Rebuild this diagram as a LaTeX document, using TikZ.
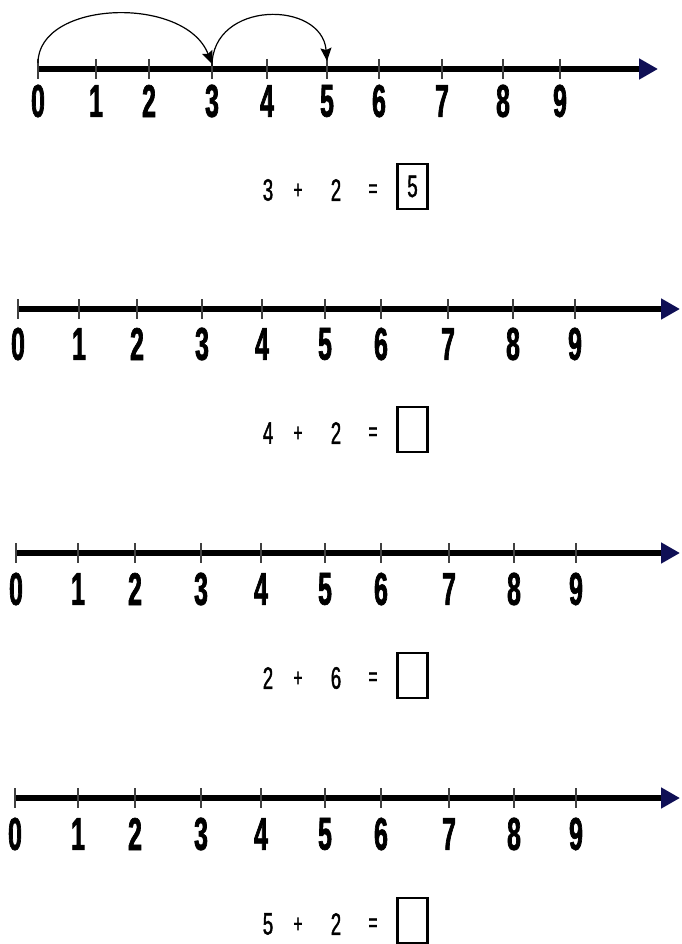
\documentclass[tikz,border=0pt]{standalone}
\usepackage{fontspec}
\usetikzlibrary{arrows.meta}
\newfontfamily\numfont[FakeStretch=0.54,FakeBold=1.5]{Liberation Sans Bold}
\newfontfamily\eqfont[FakeStretch=0.6,FakeBold=1.3]{Liberation Sans}
\definecolor{navy}{RGB}{15,15,85}
\begin{document}
\begin{tikzpicture}[x=1pt,y=-1pt,
  axisline/.style={line width=5.5pt,-{Triangle[length=19pt,width=20pt,color=navy,fill=navy]}},
  tick/.style={line width=1.3pt,draw=black!75},
  numlabel/.style={inner sep=0pt,font=\numfont\fontsize{46}{46}\selectfont},
  eqtext/.style={inner sep=0pt,font=\eqfont\fontsize{31}{31}\selectfont},
  eqsign/.style={inner sep=0pt,font=\eqfont\fontsize{26}{26}\selectfont},
  ansbox/.style={draw,line width=2.2pt,minimum width=30pt,minimum height=45pt,inner sep=0pt,font=\eqfont\fontsize{31}{31}\selectfont},
  jump/.style={line width=1.2pt,-{Stealth[length=13pt,width=11pt,inset=2pt]}}]
\useasboundingbox (0,0) rectangle (681,944);
\fill[white] (0,0) rectangle (681,944);

% ---------- line 1 ----------
\coordinate (s1) at (38,69);
\coordinate (e1) at (658,69);
\draw[axisline] (s1) -- (e1);
\foreach \x [count=\i from 0] in {38,96,149,212,267,327,379,442,503,560}{
  \draw[tick] (\x,59) -- (\x,79);
  \node[numlabel] (a\i) at (\x,101) {\i};
}
\coordinate (j0) at (38,63);
\coordinate (j3) at (212,64);
\coordinate (j3b) at (212,66);
\coordinate (j5) at (327,61);
\draw[jump] (j0) .. controls (38,0) and (185,-5) .. (j3);
\draw[jump] (j3b) .. controls (212,0) and (322,0) .. (j5);

\node[eqtext] (p1a) at (268,190) {3};
\node[eqsign] (p1b) at (298,191) {+};
\node[eqtext] (p1c) at (336,190) {2};
\node[eqsign] (p1d) at (373,191) {=};
\node[ansbox] (b1) at (412.5,186.5) {5};

% ---------- line 2 ----------
\coordinate (s2) at (18,309);
\coordinate (e2) at (680,309);
\draw[axisline] (s2) -- (e2);
\foreach \x [count=\i from 0] in {18,79,137,202,262,325,381,448,513,575}{
  \draw[tick] (\x,299) -- (\x,319);
  \node[numlabel] (b\i) at (\x,344) {\i};
}
\node[eqtext] (p2a) at (268,433) {4};
\node[eqsign] (p2b) at (298,434) {+};
\node[eqtext] (p2c) at (336,433) {2};
\node[eqsign] (p2d) at (373,434) {=};
\node[ansbox] (bx2) at (412.5,429.5) {};

% ---------- line 3 ----------
\coordinate (s3) at (16,553);
\coordinate (e3) at (680,553);
\draw[axisline] (s3) -- (e3);
\foreach \x [count=\i from 0] in {16,78,135,201,261,325,381,449,514,576}{
  \draw[tick] (\x,543) -- (\x,563);
  \node[numlabel] (c\i) at (\x,589) {\i};
}
\node[eqtext] (p3a) at (268,678) {2};
\node[eqsign] (p3b) at (298,679) {+};
\node[eqtext] (p3c) at (336,678) {6};
\node[eqsign] (p3d) at (373,679) {=};
\node[ansbox] (bx3) at (412.5,675.5) {};

% ---------- line 4 ----------
\coordinate (s4) at (15,798);
\coordinate (e4) at (680,798);
\draw[axisline] (s4) -- (e4);
\foreach \x [count=\i from 0] in {15,78,135,201,261,325,381,449,514,576}{
  \draw[tick] (\x,788) -- (\x,808);
  \node[numlabel] (d\i) at (\x,834) {\i};
}
\node[eqtext] (p4a) at (268,924) {5};
\node[eqsign] (p4b) at (298,925) {+};
\node[eqtext] (p4c) at (336,924) {2};
\node[eqsign] (p4d) at (373,925) {=};
\node[ansbox] (bx4) at (412.5,920.5) {};
\end{tikzpicture}
\end{document}
